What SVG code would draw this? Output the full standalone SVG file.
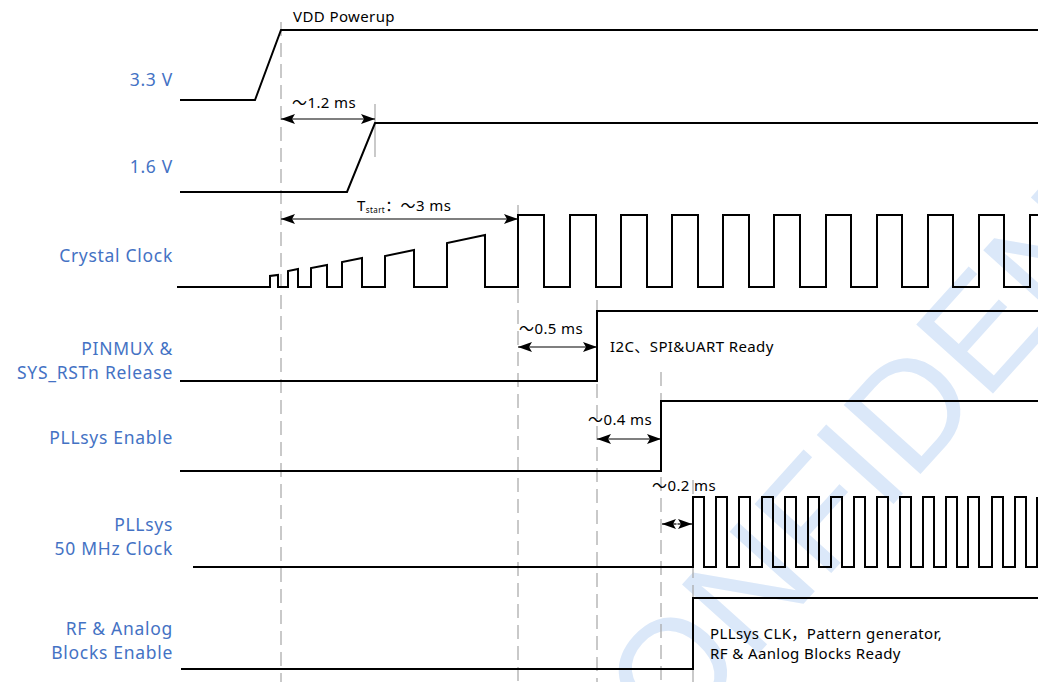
<svg xmlns="http://www.w3.org/2000/svg" width="1038" height="682" viewBox="0 0 1038 682">
<style>
.bg{fill:#ffffff}
.sig{fill:none;stroke:#000;stroke-width:2;stroke-linejoin:miter}
.lbl{font-family:"Noto Sans",Roboto,sans-serif;font-size:17.5px;letter-spacing:0.7px;fill:#4472C4;text-anchor:end}
.ann{font-family:"Noto Sans",Roboto,"Noto Sans CJK SC",sans-serif;font-size:15px;letter-spacing:0.4px;fill:#000}
.dash{stroke:#a6a6a6;stroke-width:1.2;stroke-dasharray:14 7;fill:none}
.tick{stroke:#a6a6a6;stroke-width:1.2;fill:none}
.dim{stroke:#000;stroke-width:1.2;fill:none;marker-start:url(#ah);marker-end:url(#ah)}
.wm{font-family:"Liberation Sans",Arial,sans-serif;font-size:150px;fill:#dbe8f9}
</style>
<defs>
<marker id="ah" viewBox="0 0 14 10" refX="14" refY="5" markerWidth="14" markerHeight="10" markerUnits="userSpaceOnUse" orient="auto-start-reverse">
<path d="M0,0 L14,5 L0,10 L3,5 z" fill="#000"/>
</marker>
</defs>
<rect class="bg" x="0" y="0" width="1038" height="682"/>
<g id="watermark">
<text class="wm" transform="translate(600,830) rotate(-48)">CONFIDENTIAL</text>
</g>
<g id="connectors">
<line class="dash" x1="281" y1="22" x2="281" y2="682"/>
<line class="tick" x1="375" y1="104" x2="375" y2="157"/>
<line class="dash" x1="518" y1="205" x2="518" y2="682"/>
<line class="dash" x1="597" y1="300" x2="597" y2="682"/>
<line class="dash" x1="661" y1="372" x2="661" y2="682"/>
<line class="dash" x1="693" y1="480" x2="693" y2="682"/>
<line class="dim" x1="281" y1="119" x2="375" y2="119"/>
<line class="dim" x1="281" y1="219" x2="518" y2="219"/>
<line class="dim" x1="518" y1="347" x2="597" y2="347"/>
<line class="dim" x1="597" y1="439" x2="661" y2="439"/>
<line class="dim" x1="662" y1="524" x2="692" y2="524"/>
<line x1="677" y1="519" x2="677" y2="529" stroke="#fff" stroke-width="1"/>
</g>
<g id="sig-33v">
<text class="lbl" x="173" y="86">3.3 V</text>
<polyline class="sig" points="180,100 255,100 281,30 1038,30"/>
<text class="ann" x="293" y="22">VDD Powerup</text>
</g>
<g id="sig-16v">
<text class="lbl" x="173" y="173">1.6 V</text>
<polyline class="sig" points="180,192 347,192 375,123 1038,123"/>
<text class="ann" x="292" y="108">～1.2 ms</text>
</g>
<g id="sig-crystal">
<text class="lbl" x="173" y="262">Crystal Clock</text>
<polyline class="sig" points="177,287 270,287 270,276 278,275 278,287 288,287 288,271 298,269 298,287 311,287 311,268 327,265 327,287 342,287 342,262 362,258 362,287 385,287 385,256 414,250 414,287 447,287 447,243 485,235 485,287 518,287 518,215 544,215 544,287 570,287 570,215 596,215 596,287 621,287 621,215 647,215 647,287 672,287 672,215 698,215 698,287 723,287 723,215 749,215 749,287 774,287 774,215 800,215 800,287 826,287 826,215 851,215 851,287 877,287 877,215 902,215 902,287 928,287 928,215 953,215 953,287 979,287 979,215 1004,215 1004,287 1030,287 1030,215 1038,215"/>
<text class="ann" x="357" y="211" letter-spacing="0">T<tspan font-size="8" dy="2">start</tspan><tspan dy="-2">：～3 ms</tspan></text>
</g>
<g id="sig-pinmux">
<text class="lbl" x="173" y="355">PINMUX &amp;</text>
<text class="lbl" x="173" y="379">SYS_RSTn Release</text>
<polyline class="sig" points="180,381 597,381 597,311 1038,311"/>
<text class="ann" x="519" y="334">～0.5 ms</text>
<text class="ann" x="610" y="352">I2C、SPI&amp;UART Ready</text>
</g>
<g id="sig-pllen">
<text class="lbl" x="173" y="444">PLLsys Enable</text>
<polyline class="sig" points="180,471 661,471 661,401 1038,401"/>
<text class="ann" x="588" y="425">～0.4 ms</text>
</g>
<g id="sig-pllclk">
<text class="lbl" x="173" y="531">PLLsys</text>
<text class="lbl" x="173" y="555">50 MHz Clock</text>
<polyline class="sig" points="193,567 693,567 693,497 704,497 704,567 716,567 716,497 727,497 727,567 739,567 739,497 750,497 750,567 762,567 762,497 773,497 773,567 785,567 785,497 796,497 796,567 808,567 808,497 819,497 819,567 831,567 831,497 842,497 842,567 854,567 854,497 865,497 865,567 877,567 877,497 888,497 888,567 900,567 900,497 911,497 911,567 923,567 923,497 934,497 934,567 946,567 946,497 957,497 957,567 968,567 968,497 979,497 979,567 992,567 992,497 1003,497 1003,567 1015,567 1015,497 1026,497 1026,567 1037,567 1037,497"/>
<text class="ann" x="652" y="491">～0.2 ms</text>
</g>
<g id="sig-rf">
<text class="lbl" x="173" y="635">RF &amp; Analog</text>
<text class="lbl" x="173" y="659">Blocks Enable</text>
<polyline class="sig" points="181,669 693,669 693,598 1038,598"/>
<text class="ann" x="710" y="639">PLLsys CLK，Pattern generator,</text>
<text class="ann" x="710" y="659">RF &amp; Aanlog Blocks Ready</text>
</g>
</svg>
